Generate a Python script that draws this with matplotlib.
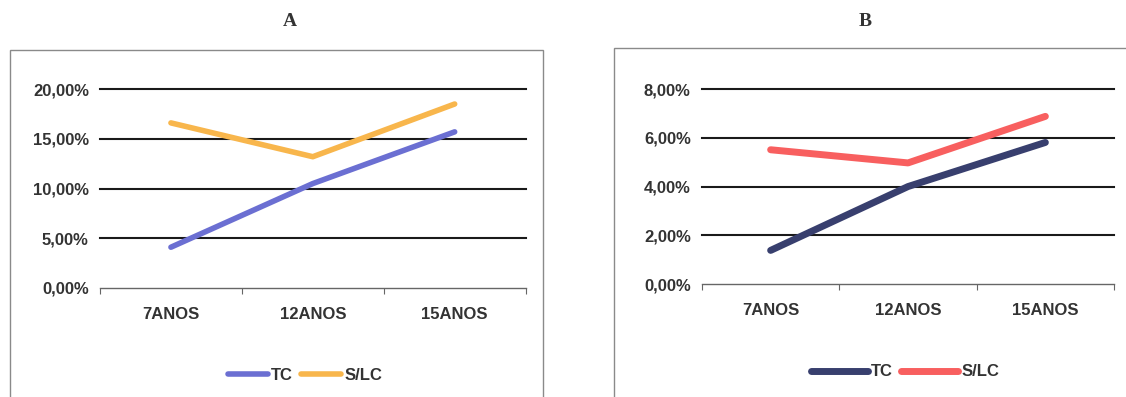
import matplotlib
matplotlib.use("Agg")
import matplotlib.pyplot as plt
from matplotlib.patches import Rectangle
from matplotlib.ticker import FuncFormatter

# --- dados ---
categorias = ["7ANOS", "12ANOS", "15ANOS"]
a_tc = [4.1, 10.5, 15.7]
a_slc = [16.6, 13.2, 18.5]
b_tc = [1.38, 4.0, 5.81]
b_slc = [5.51, 4.97, 6.88]
a_ticks = [0, 5, 10, 15, 20]
b_ticks = [0, 2, 4, 6, 8]

plt.rcParams['font.family'] = ['Liberation Sans', 'DejaVu Sans']

fig = plt.figure(figsize=(11.26, 3.97), dpi=100)
fig.patch.set_facecolor("white")

# molduras dos graficos
fig.add_artist(Rectangle((0.0089, -0.02), 0.4731, 0.894, transform=fig.transFigure,
                         fill=False, edgecolor="#8a8a8a", linewidth=1.0))
fig.add_artist(Rectangle((0.545, -0.02), 0.47, 0.899, transform=fig.transFigure,
                         fill=False, edgecolor="#8a8a8a", linewidth=1.0))


def pct(v, pos):
    return f"{v:.2f}".replace(".", ",") + "%"


def painel(rect, tc, slc, ticks, cor_tc, cor_slc, lw, titulo, tx, leg_xy, hl):
    ax = fig.add_axes(rect)
    x = [i + 0.5 for i in range(len(categorias))]
    l1, = ax.plot(x, tc, color=cor_tc, lw=lw, solid_capstyle="round", label="TC")
    l2, = ax.plot(x, slc, color=cor_slc, lw=lw, solid_capstyle="round", label="S/LC")
    ax.set_xlim(0, 3)
    ax.set_ylim(ticks[0], ticks[-1])
    ax.set_yticks(ticks)
    ax.yaxis.set_major_formatter(FuncFormatter(pct))
    for t in ticks[1:]:
        ax.axhline(t, color="#1a1a1a", lw=1.5, zorder=0, clip_on=False)
    ax.set_xticks([0, 1, 2, 3])
    ax.set_xticklabels([])
    ax.set_xticks(x, minor=True)
    ax.set_xticklabels(categorias, minor=True)
    ax.tick_params(axis="x", which="major", length=4, color="#666666", direction="out")
    ax.tick_params(axis="x", which="minor", length=0, pad=14, labelsize=12,
                   labelcolor="#333333")
    ax.tick_params(axis="y", length=0, pad=8, labelsize=12, labelcolor="#333333")
    for lab in ax.get_xticklabels(minor=True) + ax.get_yticklabels():
        lab.set_fontweight("bold")
    for s in ["top", "right", "left"]:
        ax.spines[s].set_visible(False)
    ax.spines["bottom"].set_color("#666666")
    ax.spines["bottom"].set_linewidth(1.0)
    ax.set_facecolor("none")
    fig.text(tx, 0.945, titulo, ha="center", va="center", fontsize=14,
             fontweight="bold", family=["Liberation Serif", "DejaVu Serif"],
             color="#333333")
    leg = fig.legend([l1, l2], ["TC", "S/LC"], loc="center", bbox_to_anchor=leg_xy,
                     ncol=2, frameon=False, handlelength=hl, handletextpad=0.2,
                     columnspacing=0.5,
                     prop={"size": 12, "weight": "bold"})
    for t in leg.get_texts():
        t.set_color("#333333")
    return ax


painel([0.0888, 0.2746, 0.378, 0.501], a_tc, a_slc, a_ticks,
       "#6b6fd2", "#f8b64c", 4.0, "A", 0.2575, (0.271, 0.055), 2.4)
painel([0.6234, 0.2846, 0.366, 0.491], b_tc, b_slc, b_ticks,
       "#383f6e", "#f85f5f", 5.0, "B", 0.768, (0.804, 0.063), 3.4)

fig.savefig("out.png", dpi=100, facecolor="white")
